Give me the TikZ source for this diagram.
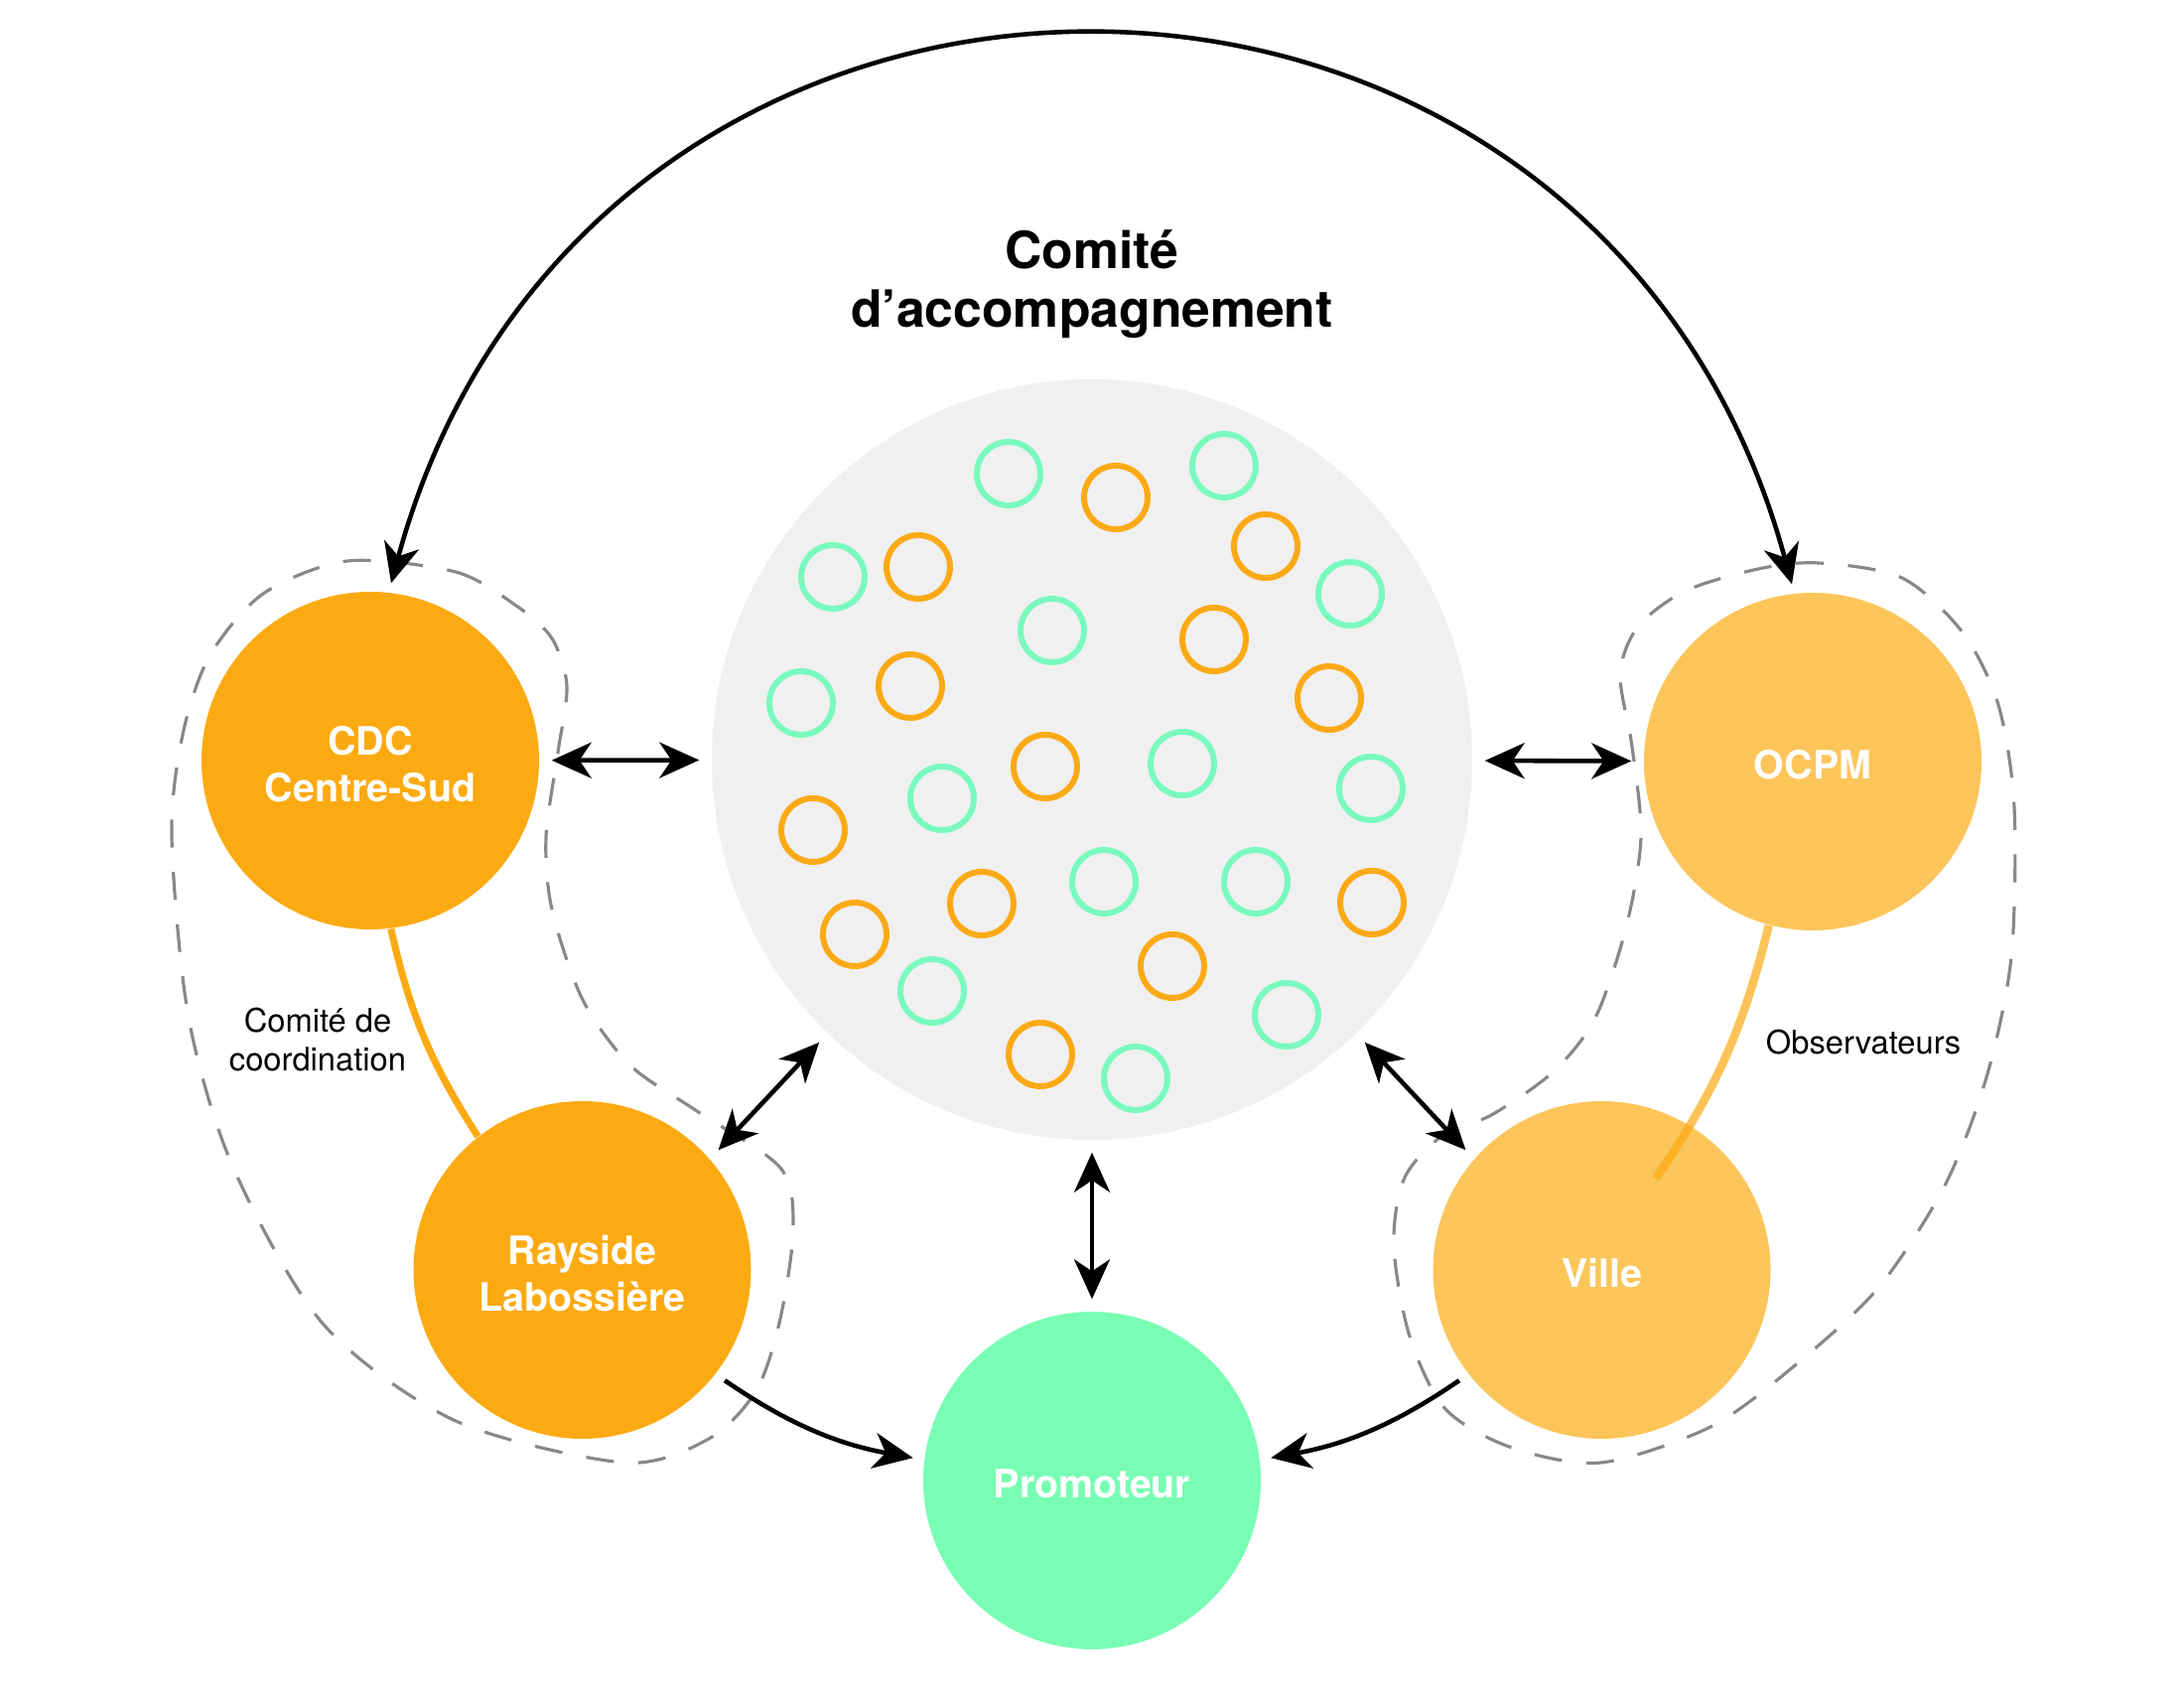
\documentclass[tikz,border=0pt]{standalone}
\usepackage{fontspec}
\setmainfont{TeX Gyre Heros}
\usetikzlibrary{arrows.meta}
\definecolor{partnerorange}{HTML}{FCAA12}
\definecolor{observerorange}{HTML}{FCC55A}
\definecolor{promotergreen}{HTML}{78FEB4}
\definecolor{comitefill}{HTML}{F0F0F0}
\definecolor{membergreen}{HTML}{7AF9BE}
\definecolor{memberorange}{HTML}{FBAA16}
\definecolor{groupgray}{HTML}{888888}

\begin{document}
\begin{tikzpicture}[
    >={Stealth[length=4mm,width=3.6mm,inset=1.2mm]},
    actor/.style={circle,minimum size=3.4cm,inner sep=0pt,align=center,text=white,font=\fontsize{11.2}{13.5}\selectfont\bfseries,execute at begin node={\rule{0pt}{10.3pt}}},
    link/.style={<->,line width=1.3pt,shorten <=1.2mm,shorten >=1.2mm},
    feed/.style={->,line width=1.3pt,shorten <=1.1mm,shorten >=1.1mm},
    group/.style={groupgray,line width=0.9pt,dash pattern=on 8pt off 7pt},
    member/.style={line width=1.7pt},
    note/.style={align=center,inner sep=0pt,font=\fontsize{9.3}{11.3}\selectfont}
]
    \useasboundingbox (0,0) rectangle (22,17);

    % === Dashed groups ===
    \draw[group] plot[smooth cycle] coordinates {(3.50,11.35) (4.59,11.24) (5.20,10.90) (5.56,10.57) (5.71,10.09) (5.62,9.42) (5.50,8.57) (5.56,7.84) (5.87,6.93) (6.35,6.27) (7.02,5.81) (7.86,5.24) (7.99,4.63) (7.86,3.72) (7.62,3.00) (7.14,2.51) (6.29,2.27) (4.59,2.69) (3.26,3.66) (2.35,5.24) (1.90,6.75) (1.73,8.57) (1.84,9.60) (2.11,10.39) (2.65,11.02)};
    \draw[group] plot[smooth cycle] coordinates {(18.32,11.33) (19.16,11.18) (19.77,10.63) (20.13,9.90) (20.29,8.87) (20.26,7.36) (20.01,6.15) (19.59,5.06) (18.92,4.03) (18.07,3.24) (17.23,2.63) (16.13,2.27) (15.23,2.42) (14.56,2.81) (14.20,3.54) (14.04,4.45) (14.14,5.12) (14.50,5.54) (15.04,5.78) (15.65,6.21) (16.07,6.75) (16.38,7.66) (16.53,8.57) (16.44,9.48) (16.32,10.21) (16.50,10.69) (16.98,11.05) (17.71,11.27)};

    % === Comité d'accompagnement ===
    \node[circle,fill=comitefill,minimum size=7.66cm,inner sep=0pt] (comite) at (11,9.35) {};
    \foreach \x/\y in {10.16/12.23, 12.33/12.31, 8.39/11.19, 13.60/11.02, 10.60/10.65, 8.07/9.92, 11.91/9.31, 9.49/8.96, 13.81/9.06, 11.12/8.12, 12.65/8.12, 9.39/7.02, 12.96/6.78, 11.44/6.14}
        \draw[member,membergreen] (\x,\y) circle[radius=0.32];
    \foreach \x/\y in {11.24/11.99, 9.25/11.29, 12.75/11.50, 12.23/10.56, 9.17/10.09, 13.39/9.97, 10.53/9.28, 8.19/8.64, 9.89/7.90, 13.82/7.91, 8.61/7.59, 11.81/7.27, 10.48/6.38}
        \draw[member,memberorange] (\x,\y) circle[radius=0.32];
    \node[align=center,inner sep=0pt,font=\fontsize{14.7}{16.9}\selectfont\bfseries] (titre) at (11,14.14) {Comité\\d’accompagnement};

    % === Actors ===
    \node[actor,fill=partnerorange] (cdc) at (3.73,9.34) {\rule{0pt}{10.3pt}CDC\\Centre-Sud};
    \node[actor,fill=partnerorange] (rayside) at (5.865,4.21) {\rule{0pt}{10.3pt}Rayside\\Labossière};
    \node[actor,fill=observerorange] (ocpm) at (18.26,9.33) {OCPM};
    \node[actor,fill=observerorange] (ville) at (16.135,4.21) {Ville};
    \node[actor,fill=promotergreen] (promoteur) at (11,2.09) {Promoteur};

    % === Labels ===
    \node[note] (coordlabel) at (3.20,6.53) {Comité de\\coordination};
    \node[note] (obslabel) at (18.77,6.50) {Observateurs};

    % === Arrows ===
    \draw[<->,line width=1.3pt] ([xshift=2.1mm,yshift=0.8mm]cdc.north) .. controls +(2,7.33) and +(-2,7.33) .. ([xshift=-2.1mm,yshift=0.8mm]ocpm.north);
    \draw[link] (cdc) -- (comite);
    \draw[link] (comite) -- (ocpm);
    \draw[link] (comite.226) -- (rayside.41);
    \draw[link] (comite.314) -- (ville.139);
    \draw[link] (comite) -- (promoteur);
    \draw[feed] (rayside.-38) to[bend right=12] (promoteur.173);
    \draw[feed] (ville.-142) to[bend left=12] (promoteur.7);

    % === Links inside the groups ===
    \draw[partnerorange,line width=2pt] (cdc.277) to[bend right=10] (rayside.128);
    \coordinate (obsend) at (16.68,5.13);
    \draw[partnerorange,opacity=0.7,line width=2.4pt] (ocpm.255) to[bend left=10] (obsend);
\end{tikzpicture}
\end{document}
